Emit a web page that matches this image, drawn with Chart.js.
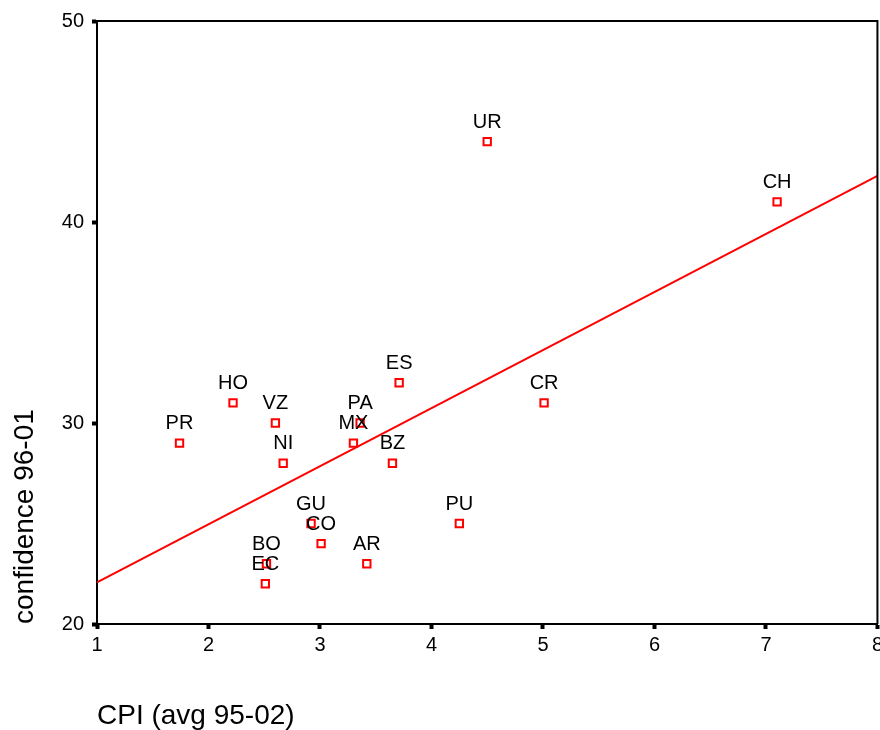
<!DOCTYPE html>
<html>
<head>
<meta charset="utf-8">
<script src="https://cdn.jsdelivr.net/npm/chart.js@4/dist/chart.umd.min.js"></script>
<style>
    html, body { margin: 0; padding: 0; background: #fff; overflow: hidden; }
    #wrap { width: 880px; height: 730px; overflow: hidden; }
</style>
</head>
<body>
<div id="wrap"><canvas id="scatterChart" width="887" height="730"></canvas></div>
<script>
// country codes, x = CPI (avg 95-02), y = confidence 96-01
let countries = ['UR', 'CH', 'ES', 'HO', 'CR', 'VZ', 'PA', 'MX', 'PR', 'NI', 'BZ', 'GU', 'PU', 'CO', 'AR', 'BO', 'EC'];
let cpi = [4.50, 7.10, 3.71, 2.22, 5.01, 2.60, 3.36, 3.30, 1.74, 2.67, 3.65, 2.92, 4.25, 3.01, 3.42, 2.52, 2.51];
let confidence = [44, 41, 32, 31, 31, 30, 30, 29, 29, 28, 28, 25, 25, 24, 23, 23, 22];
// fit line ends
let fitX = [1, 8];
let fitY = [22.07, 42.3];

let fontFamily = '"Liberation Sans", Arial, sans-serif';

let points = cpi.map((x, i) => {
    return { x: x, y: confidence[i] };
});
let fitLine = fitX.map((x, i) => {
    return { x: x, y: fitY[i] };
});

// names above each marker
const pointLabels = {
    id: 'pointLabels',
    afterDatasetsDraw(chart) {
        const ctx = chart.ctx;
        const meta = chart.getDatasetMeta(0);
        ctx.save();
        ctx.font = '20px ' + fontFamily;
        ctx.fillStyle = '#000';
        ctx.textAlign = 'center';
        ctx.textBaseline = 'alphabetic';
        meta.data.forEach((pt, i) => {
            ctx.fillText(countries[i], pt.x, pt.y - 14);
        });
        ctx.restore();
    }
};

// closes the box on top and right
const frame = {
    id: 'frame',
    afterDraw(chart) {
        const { ctx, chartArea } = chart;
        ctx.save();
        ctx.strokeStyle = '#000';
        ctx.lineWidth = 2;
        ctx.beginPath();
        ctx.moveTo(chartArea.left, chartArea.top);
        ctx.lineTo(chartArea.right, chartArea.top);
        ctx.lineTo(chartArea.right, chartArea.bottom);
        ctx.stroke();
        ctx.restore();
    }
};

const ctx = document.getElementById('scatterChart');
const chart = new Chart(ctx, {
    type: 'scatter',
    data: {
        datasets: [{
            label: 'confidence',
            data: points,
            pointStyle: 'rect',
            pointRadius: 5.2,
            pointBorderWidth: 2,
            borderColor: '#ff0000',
            backgroundColor: 'rgba(255,255,255,0)'
        }, {
            type: 'line',
            label: 'fit',
            data: fitLine,
            borderColor: '#ff0000',
            borderWidth: 2,
            pointRadius: 0,
            fill: false
        }]
    },
    options: {
        responsive: false,
        animation: false,
        layout: {
            padding: { top: 21, right: 7, left: 0, bottom: 0 }
        },
        plugins: {
            legend: { display: false },
            tooltip: { enabled: false }
        },
        scales: {
            x: {
                type: 'linear',
                min: 1,
                max: 8,
                ticks: {
                    stepSize: 1,
                    color: '#000',
                    padding: 4,
                    font: { family: fontFamily, size: 20 }
                },
                grid: {
                    drawOnChartArea: false,
                    drawTicks: true,
                    tickLength: 5,
                    tickWidth: 4,
                    tickColor: '#000'
                },
                border: { display: true, color: '#000', width: 2 },
                title: {
                    display: true,
                    text: 'CPI (avg 95-02)',
                    align: 'start',
                    color: '#000',
                    padding: { top: 0, bottom: 0 },
                    font: { family: fontFamily, size: 28, lineHeight: 1.0 }
                },
                afterFit: (scale) => {
                    scale.height = 106;
                }
            },
            y: {
                type: 'linear',
                min: 20,
                max: 50,
                ticks: {
                    stepSize: 10,
                    color: '#000',
                    padding: 8,
                    font: { family: fontFamily, size: 20 }
                },
                grid: {
                    drawOnChartArea: false,
                    drawTicks: true,
                    tickLength: 5,
                    tickWidth: 4,
                    tickColor: '#000'
                },
                border: { display: true, color: '#000', width: 2 },
                title: {
                    display: true,
                    text: 'confidence 96-01',
                    align: 'start',
                    color: '#000',
                    padding: { top: 11, bottom: 0 },
                    font: { family: fontFamily, size: 28, lineHeight: 1.0 }
                },
                afterFit: (scale) => {
                    scale.width = 97;
                }
            }
        }
    },
    plugins: [pointLabels, frame]
});
</script>
</body>
</html>
